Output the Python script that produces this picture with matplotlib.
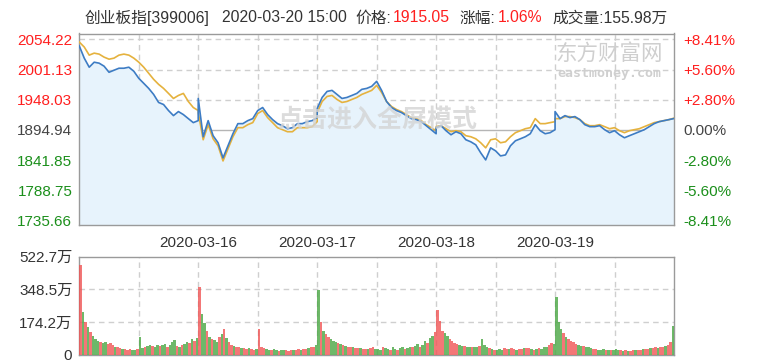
import numpy as np
import matplotlib
matplotlib.use('Agg')
import matplotlib.pyplot as plt

FAM = ['Liberation Sans', 'Noto Sans CJK SC', 'DejaVu Sans']
plt.rcParams['font.family'] = FAM

# ---------------- data ----------------
prev_close = 1894.94
y_ticks = [2054.22, 2001.13, 1948.03, 1894.94, 1841.85, 1788.75, 1735.66]
y_labels = ['2054.22', '2001.13', '1948.03', '1894.94', '1841.85', '1788.75', '1735.66']
pct_labels = ['+8.41%', '+5.60%', '+2.80%', '0.00%', '-2.80%', '-5.60%', '-8.41%']
date_labels = ['2020-03-16', '2020-03-17', '2020-03-18', '2020-03-19']
vol_ticks = [0, 174.2, 348.5, 522.7]
vol_labels = ['0', '174.2万', '348.5万', '522.7万']

# price (blue) sampled at open and every 10 minutes, one list per day
price_d1 = [2042.4, 2021.1, 2005.2, 2014.0, 2012.3, 2007.0, 1996.3, 1999.9, 2003.4, 2003.4, 2005.2, 1998.1,
            1985.7, 1976.9, 1968.0, 1957.4, 1943.3, 1939.7, 1929.1, 1920.2, 1927.3, 1922.0, 1914.9, 1907.9, 1911.4]
price_d2 = [1950.3, 1883.1, 1911.4, 1884.9, 1872.5, 1845.9, 1867.2, 1888.4, 1906.1, 1906.1, 1911.4, 1914.9,
            1929.1, 1934.4, 1922.0, 1913.2, 1906.1, 1902.5, 1897.2, 1899.0, 1906.1, 1906.1, 1909.6, 1911.4, 1916.7]
price_d3 = [1932.6, 1952.1, 1962.7, 1964.5, 1957.4, 1950.3, 1952.1, 1955.6, 1959.2, 1966.3, 1968.0, 1971.6,
            1980.4, 1964.5, 1945.0, 1934.4, 1929.1, 1925.6, 1920.2, 1914.9, 1913.2, 1909.6, 1902.5, 1895.5, 1888.4]
price_d4 = [1899.0, 1902.5, 1893.7, 1886.6, 1891.9, 1888.4, 1877.8, 1874.2, 1868.9, 1854.8, 1842.4, 1863.6,
            1858.3, 1849.4, 1851.2, 1867.2, 1876.0, 1879.5, 1883.1, 1888.4, 1904.3, 1893.7, 1888.4, 1890.2, 1895.5]
price_d5 = [1927.3, 1914.9, 1920.2, 1916.7, 1918.5, 1913.2, 1904.3, 1900.8, 1900.8, 1902.5, 1895.5, 1890.2,
            1893.7, 1886.6, 1881.3, 1884.9, 1888.4, 1891.9, 1895.5, 1900.8, 1906.1, 1909.6, 1911.4, 1913.2, 1915.05]

# average price (gold)
avg_d1 = [2049.4, 2040.6, 2026.4, 2029.9, 2028.2, 2022.9, 2019.3, 2021.1, 2026.4, 2028.2, 2026.4, 2021.1,
          2014.0, 2005.2, 1994.6, 1983.9, 1975.1, 1968.0, 1959.2, 1950.3, 1955.6, 1959.2, 1945.0, 1934.4, 1929.1]
avg_d2 = [1925.6, 1877.8, 1904.3, 1879.5, 1867.2, 1840.6, 1861.8, 1883.1, 1899.0, 1899.0, 1904.3, 1907.9,
          1923.8, 1929.1, 1916.7, 1907.9, 1899.0, 1895.5, 1891.9, 1891.9, 1899.0, 1899.0, 1899.0, 1900.8, 1909.6]
avg_d3 = [1925.6, 1945.0, 1953.9, 1955.6, 1948.6, 1943.3, 1945.0, 1948.6, 1952.1, 1957.4, 1960.9, 1964.5,
          1973.3, 1960.9, 1945.0, 1936.2, 1930.9, 1927.3, 1922.0, 1916.7, 1914.9, 1911.4, 1904.3, 1899.0, 1893.7]
avg_d4 = [1900.8, 1902.5, 1897.2, 1891.9, 1893.7, 1891.9, 1884.9, 1883.1, 1879.5, 1872.5, 1863.6, 1877.8,
          1879.5, 1872.5, 1874.2, 1883.1, 1890.2, 1893.7, 1897.2, 1899.0, 1914.9, 1906.1, 1906.1, 1907.9, 1909.6]
avg_d5 = [1914.9, 1914.9, 1918.5, 1918.5, 1916.7, 1913.2, 1906.1, 1902.5, 1902.5, 1904.3, 1900.8, 1897.2,
          1899.0, 1893.7, 1890.2, 1893.7, 1895.5, 1897.2, 1900.8, 1904.3, 1907.9, 1909.6, 1911.4, 1913.2, 1915.8]

# volume (万), one bar per 5 minutes
vol_d1 = [480, 230, 175, 150, 120, 100, 85, 75, 70, 65, 68, 60, 62, 55, 45, 40, 35, 32, 30, 28, 30, 27, 28, 30,
          95, 35, 40, 48, 55, 50, 45, 55, 48, 52, 60, 45, 55, 70, 80, 50, 45, 55, 60, 70, 65, 85, 75, 90]
vol_d2 = [360, 220, 170, 130, 95, 85, 80, 70, 95, 110, 140, 90, 70, 55, 50, 45, 40, 38, 35, 32, 35, 30, 28, 30,
          140, 40, 35, 30, 28, 25, 30, 25, 22, 25, 28, 25, 22, 25, 28, 25, 30, 28, 30, 32, 35, 40, 45, 55]
vol_d3 = [345, 175, 130, 110, 95, 85, 75, 70, 65, 60, 55, 50, 45, 42, 40, 38, 36, 35, 33, 32, 30, 35, 40, 32,
          30, 28, 45, 35, 30, 28, 40, 30, 25, 35, 45, 30, 35, 45, 40, 50, 60, 45, 55, 75, 65, 90, 100, 120]
vol_d4 = [240, 180, 130, 115, 100, 85, 75, 65, 60, 55, 50, 48, 45, 45, 42, 40, 45, 50, 85, 55, 40, 35, 30, 28,
          25, 30, 28, 35, 30, 32, 35, 30, 28, 32, 30, 35, 38, 35, 30, 28, 32, 35, 30, 40, 45, 55, 65, 60]
vol_d5 = [310, 175, 140, 115, 95, 85, 75, 70, 60, 55, 50, 48, 42, 40, 35, 32, 30, 28, 27, 30, 28, 25, 27, 25,
          30, 28, 25, 22, 25, 23, 22, 25, 25, 28, 27, 30, 32, 30, 35, 35, 40, 38, 40, 45, 50, 55, 70, 155]
# colour of each day's opening volume bar (True = red / up)
open_bar_up = [True, True, False, True, False]

# ---------------- build series ----------------
price_days = [price_d1, price_d2, price_d3, price_d4, price_d5]
avg_days = [avg_d1, avg_d2, avg_d3, avg_d4, avg_d5]
vol_days = [vol_d1, vol_d2, vol_d3, vol_d4, vol_d5]

t_price, p_all, a_all = [], [], []
for d in range(5):
    for j in range(25):
        t_price.append(240 * d + 10 * j)
        p_all.append(price_days[d][j])
        a_all.append(avg_days[d][j])
t_price = np.array(t_price, float)
p_all = np.array(p_all)
a_all = np.array(a_all)

t_vol, v_all, v_col = [], [], []
RED = '#f05555'
GREEN = '#4aa744'
for d in range(5):
    for j in range(48):
        t_vol.append(240 * d + 5 * j + 2.5)
        v_all.append(vol_days[d][j])
        if j == 0:
            up = open_bar_up[d]
        else:
            idx = j // 2 + 1
            up = price_days[d][idx] >= price_days[d][idx - 1]
            if j % 3 == 2:
                up = not up
        v_col.append(RED if up else GREEN)

# ---------------- figure ----------------
W, H = 761, 364
fig = plt.figure(figsize=(W / 100, H / 100), dpi=100)

def fx(px):
    return px / W

def fy(py):
    return 1 - py / H

L, R = 79.3, 674.0
ax = fig.add_axes([fx(L), fy(225), fx(R) - fx(L), fy(33.5) - fy(225)])
axv = fig.add_axes([fx(L), fy(355), fx(R) - fx(L), fy(256.7) - fy(355)])

ymin, ymax = 1728.1, 2064.4
FRAME = '#9a9a9a'
GRID = '#cfcfcf'

for a in (ax, axv):
    for s in a.spines.values():
        s.set_color(FRAME)
        s.set_linewidth(1.0)
    a.set_xlim(0, 1200)

ax.set_ylim(ymin, ymax)

# grid
for v in y_ticks:
    if abs(v - prev_close) < 0.01:
        ax.axhline(v, color='#b5b5b5', lw=1.0, zorder=1)
    else:
        ax.axhline(v, color=GRID, lw=1.0, ls=(0, (4, 3)), zorder=1)
for k in range(1, 10):
    ax.axvline(120 * k, color=GRID, lw=1.0, ls=(0, (4, 3)), zorder=1)
    axv.axvline(120 * k, color=GRID, lw=1.0, ls=(0, (4, 3)), zorder=1)
for v in vol_ticks[1:3]:
    axv.axhline(v, color=GRID, lw=1.0, ls=(0, (4, 3)), zorder=1)

# watermark
fig.text(fx(377), fy(120), '点击进入全屏模式', fontsize=18, fontweight='bold',
         color='#d4d4d4', alpha=0.8, ha='center', va='center', zorder=2,
         family=['Noto Sans CJK SC'])
fig.text(fx(609), fy(54), '东方财富网', fontsize=15.5, color='#cfcfcf',
         ha='center', va='center', family=['Noto Sans CJK SC'])
fig.text(fx(609), fy(74), 'eastmoney.com', fontsize=9.5, fontweight='bold', color='#cfcfcf',
         ha='center', va='center', family=['DejaVu Sans Mono'])

# price lines
ax.fill_between(t_price, p_all, ymin, color='#e7f3fc', zorder=2, lw=0)
ax.plot(t_price, a_all, color='#e5b23e', lw=1.2, zorder=4)
ax.plot(t_price, p_all, color='#3d7cc4', lw=1.2, zorder=5)

# left ticks
ax.set_yticks(y_ticks)
ax.set_yticklabels(y_labels)
ax.tick_params(axis='y', length=0, pad=5, labelsize=11)
def col_for(v):
    if v > prev_close + 0.01:
        return '#ff1f1f'
    if v < prev_close - 0.01:
        return '#1b8f1b'
    return '#444444'
for lab, v in zip(ax.get_yticklabels(), y_ticks):
    lab.set_color(col_for(v))

# right ticks
axr = ax.twinx()
axr.set_ylim(ymin, ymax)
axr.set_yticks(y_ticks)
axr.set_yticklabels(pct_labels)
axr.tick_params(axis='y', length=0, pad=7, labelsize=11)
for s in axr.spines.values():
    s.set_visible(False)
for lab, v in zip(axr.get_yticklabels(), y_ticks):
    lab.set_color(col_for(v))

# x date labels
ax.set_xticks([240, 480, 720, 960])
ax.set_xticklabels(date_labels)
ax.tick_params(axis='x', length=0, pad=8, labelsize=11, labelcolor='#333333')

# volume
axv.bar(t_vol, v_all, width=5.0, color=v_col, lw=0, alpha=0.8, zorder=3)
axv.set_ylim(0, 522.7)
axv.set_yticks(vol_ticks)
axv.set_yticklabels(vol_labels)
axv.tick_params(axis='y', length=0, pad=5, labelsize=11, labelcolor='#333333')
axv.set_xticks([])

# title pieces
TY = fy(18)
GRAY = '#333333'
TRED = '#ff1f1f'
pieces = [
    (85, '创业板指[399006]', GRAY),
    (222, '2020-03-20 15:00', GRAY),
    (355, '价格:', GRAY),
    (393, '1915.05', TRED),
    (459, '涨幅:', GRAY),
    (498, '1.06%', TRED),
    (552, '成交量:155.98万', GRAY),
]
for x, s, c in pieces:
    fig.text(fx(x), TY, s, color=c, fontsize=11.3, ha='left', va='center')

fig.savefig('out.png', dpi=100)
